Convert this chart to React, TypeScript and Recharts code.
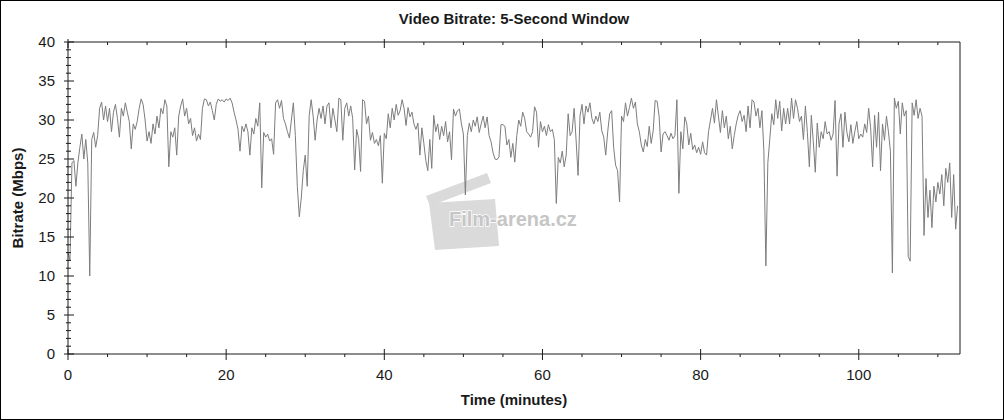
import { LineChart, Line, XAxis, YAxis } from "recharts";

// bitrate samples in Mbps, one every 0.25 min
const seg00 = [
  13, 12, 24.5, 24.8,
  21.5, 24.5, 26.5, 28.2,
  25, 27.5, 24.5, 10,
  27.5, 28.4, 26.5, 28,
  31.5, 32.3, 30, 31.8,
  29.8, 31.5, 28.5, 31,
  32, 30.2, 27.8, 31.5,
  30.5, 32.2, 31, 29.8,
  26.3, 29.5, 28.8, 29.8,
  31.5, 32.7, 32, 30,
  27.3, 28.5, 27, 29.5,
  28.2, 30.5, 29, 31.5,
  30.8, 32.6, 31.8, 24,
  28.5, 27.8, 29, 25.5,
  30.5, 31.8, 32.7, 30.5,
  31.5, 29.5, 30.2, 28,
  29, 27.3, 28.2, 27.5,
  31.5, 32.7, 32.6, 31.8,
  32.3, 31.2, 30, 32,
  32.7, 32.4, 32.6, 32.3,
  32.7, 32.5, 32.8, 32.2,
  31, 30, 28.8, 26,
  29.2, 28.5,
];

const seg22 = [
  29.5, 28.5,
  25.5, 29, 28.2, 30.2,
  29.2, 32.2, 21.3, 28.4,
  27.8, 28.2, 27.3, 27.6,
  25.6, 32.2, 32.6, 31.5,
  32.5, 30.2, 29.5, 28.5,
  27.7, 30, 32.2, 28,
  21.5, 17.6, 20, 23.5,
  25.5, 21.5, 30.6, 32.6,
  30.5, 27.4, 30, 31.5,
  30.2, 31.8, 29.5, 31.8,
  32.2, 29, 31.5, 30,
  28.5, 32.8, 32.6, 27.4,
  31.5, 32.2, 30.5, 31.8,
  30.2, 23.6, 28.8, 27.6,
  23.4, 32.6, 32.4, 29.5,
  30.5, 27.4, 28.4, 27,
  27.5, 26.7, 28, 21.9,
  28.3, 27.6, 30.8, 29,
  31.5, 30, 32, 30.6,
  31.2, 32.6, 31.5, 29.3,
  31.6, 30.4, 31, 29.5,
  28.8, 29.6, 25.5, 29,
];

const seg45 = [
  27, 24.8, 23.5, 27.5,
  23.8, 30.6, 28.5, 29.5,
  27.5, 29.2, 28, 29.8,
  27.2, 28.5, 24.9, 31.4,
  30.5, 31.2, 31.4, 29.5,
  28.2, 20.4, 28, 29.6,
  28.5, 30, 29.2, 30.4,
  28.4, 29.5, 30.5, 29,
  30.4, 28, 27.2, 25.8,
  25, 24.9, 25.3, 29.4,
  29.4, 29.2, 26.8, 27.5,
  25.2, 27, 24.6, 28,
  30, 29.2, 31, 30.2,
  28.5, 28.2, 27.8, 28.5,
  31.7, 31, 26.5, 29.8,
  28.5, 29.2, 28, 29.4,
  28.5, 28.8, 27.5, 19.3,
  25.2, 24.5, 26, 24,
  25.5, 30.8, 28, 28.5,
  31.5, 27.5, 22.9, 30.5,
  32, 29.5, 31.8, 31,
  32.2, 30.2, 29.5, 30.5,
  29.8, 31, 28.6, 27.8,
];

const seg68 = [
  25.5, 28.5, 30.8, 31.2,
  26.5, 24.2, 23.5, 19.5,
  30.5, 29.8, 32.2, 30.5,
  31.6, 32.8, 31.5, 32.3,
  29.5, 28.5, 26.8, 25.9,
  27.5, 26.6, 29.2, 27,
  28.6, 32.5, 32.4, 30.5,
  25.9, 28.2, 28.5, 28,
  27.4, 28.3, 27.6, 28,
  32.6, 20.6, 28.5, 26.3,
  30.4, 29.5, 26.8, 28.3,
  26.2, 26.8, 25.8, 26.5,
  25.6, 27.2, 25.8, 25.5,
  28.5, 30, 31.5, 29.6,
  32.6, 30.5, 28.4, 31.2,
  29, 30.5, 27.6, 29.2,
  26.3, 28, 29.5, 30.6,
  31.2, 29.8, 30.6, 28.5,
  31.8, 29, 32.6, 32.3,
  30.5, 31.5, 29, 31.2,
  26, 11.3, 24.5, 27.6,
  30.8, 29.4, 32.6, 30.2,
  32.4, 28.6, 31.5, 29.5,
];

const seg91 = [
  31.5, 29.5, 32.8, 30.2,
  32.6, 31.5, 29.8, 30.5,
  27.5, 31.8, 28.4, 24,
  30.6, 27.2, 23.3, 29.6,
  26.5, 28.5, 27.6, 29.8,
  28.2, 28.5, 27.4, 28.2,
  32.5, 22.8, 29.5, 30.8,
  26.5, 31, 28.4, 27.2,
  29.4, 27, 28.5, 29.8,
  27.6, 28.2, 27.8, 29.5,
  28.4, 31.5, 29, 24,
  30.6, 26.5, 31, 23.5,
  29.5, 27.4, 30.5, 28.5,
  26, 10.4, 32.8, 31.5,
  32.4, 28.2, 32.2, 30.5,
  31.2, 12.5, 11.9, 32.2,
  30.6, 32.6, 30.2, 31.5,
  30.5, 15.2, 22.5, 17.5,
  21, 16.2, 21.5, 19.5,
  22, 20.5, 23, 19,
  23.8, 22, 24.5, 17.5,
  23, 16, 19,
];

const segments = [
  { start: 0, values: seg00 },
  { start: 22.5, values: seg22 },
  { start: 45, values: seg45 },
  { start: 68, values: seg68 },
  { start: 91, values: seg91 },
];

const STEP = 0.25;
const xTicks = [0, 5, 10, 15, 20, 25, 30, 35, 40, 45, 50, 55, 60, 65, 70, 75, 80, 85, 90, 95, 100, 105, 110];
const yTicks = Array.from({ length: 41 }, (_, i) => i);

const data = segments.flatMap((s) =>
  s.values.map((v, i) => ({ t: s.start + i * STEP, rate: v }))
);

const INK = "#1a1a1a";
const FONT = "'Liberation Sans', Arial, sans-serif";

function BottomTick({ x, y, payload }: any) {
  const major = payload.value % 20 === 0;
  return (
    <g>
      <line x1={x} x2={x} y1={major ? y - 5 : y} y2={major ? y + 6 : y + 3} stroke={INK} />
      {major && (
        <text x={x} y={y + 26} textAnchor="middle" fontSize={15} fill={INK} fontFamily={FONT}>
          {payload.value}
        </text>
      )}
    </g>
  );
}

function TopTick({ x, y, payload }: any) {
  const major = payload.value % 20 === 0;
  return <line x1={x} x2={x} y1={major ? y - 3 : y} y2={major ? y + 6 : y + 3} stroke={INK} />;
}

function LeftTick({ x, y, payload }: any) {
  const major = payload.value % 5 === 0;
  return (
    <g>
      <line x1={major ? x - 4 : x - 2} x2={major ? x + 6 : x + 3} y1={y} y2={y} stroke={INK} />
      {major && (
        <text x={x - 13} y={y} dy="0.36em" textAnchor="end" fontSize={15} fill={INK} fontFamily={FONT}>
          {payload.value}
        </text>
      )}
    </g>
  );
}

function RightTick({ x, y, payload }: any) {
  const major = payload.value % 5 === 0;
  return (
    <g>
      <line x1={major ? x - 5 : x - 3} x2={major ? x + 5 : x + 2} y1={y} y2={y} stroke={INK} />
      {major && (
        <text x={x + 12} y={y} dy="0.36em" textAnchor="start" fontSize={15} fill={INK} fontFamily={FONT}>
          {payload.value}
        </text>
      )}
    </g>
  );
}

function Watermark() {
  return (
    <svg width={1004} height={420} style={{ position: "absolute", left: 0, top: 0 }}>
      <polygon points="426,196 487,173 491,183 430,206" fill="#dadada" />
      <polygon points="429,203 495,199 499,246 435,250" fill="#dadada" />
      <text
        x={449}
        y={226}
        fontSize={20}
        fontWeight="bold"
        fontFamily={FONT}
        fill="#c6c6c6"
        stroke="#ffffff"
        strokeWidth={1.5}
        paintOrder="stroke"
      >
        Film-arena.cz
      </text>
    </svg>
  );
}

export default function App() {
  return (
    <div
      style={{
        position: "absolute",
        left: 0,
        top: 0,
        width: 1004,
        height: 420,
        background: "#fff",
        fontFamily: FONT,
      }}
    >
      <Watermark />
      <div
        style={{
          position: "absolute",
          left: 68,
          top: 10,
          width: 892,
          textAlign: "center",
          fontSize: 15,
          fontWeight: "bold",
          color: INK,
        }}
      >
        Video Bitrate: 5-Second Window
      </div>
      <div style={{ position: "absolute", left: 0, top: 0 }}>
        <LineChart width={1004} height={420} data={data} margin={{ top: 0, right: 0, bottom: 0, left: 0 }}>
          <XAxis
            dataKey="t"
            type="number"
            domain={[0, 112.8]}
            ticks={xTicks}
            interval={0}
            height={66}
            tickSize={0}
            tickMargin={0}
            tickLine={false}
            axisLine={{ stroke: INK }}
            tick={<BottomTick />}
            label={{
              value: "Time (minutes)",
              position: "insideBottom",
              offset: 15,
              style: { fontSize: 15, fontWeight: "bold", fill: INK, fontFamily: FONT },
            }}
          />
          <XAxis
            xAxisId="top"
            dataKey="t"
            type="number"
            orientation="top"
            domain={[0, 112.8]}
            ticks={xTicks}
            interval={0}
            height={42}
            tickSize={0}
            tickMargin={0}
            tickLine={false}
            axisLine={{ stroke: INK }}
            tick={<TopTick />}
          />
          <YAxis
            type="number"
            domain={[0, 40]}
            ticks={yTicks}
            interval={0}
            width={68}
            tickSize={0}
            tickMargin={0}
            tickLine={false}
            axisLine={{ stroke: INK }}
            tick={<LeftTick />}
            label={{
              value: "Bitrate (Mbps)",
              angle: -90,
              position: "insideLeft",
              offset: 18,
              style: { fontSize: 15, fontWeight: "bold", fill: INK, fontFamily: FONT, textAnchor: "middle" },
            }}
          />
          <YAxis
            yAxisId="right"
            orientation="right"
            type="number"
            domain={[0, 40]}
            ticks={yTicks}
            interval={0}
            width={44}
            tickSize={0}
            tickMargin={0}
            tickLine={false}
            axisLine={{ stroke: INK }}
            tick={<RightTick />}
          />
          <Line
            type="linear"
            dataKey="rate"
            stroke="#7d7d7d"
            strokeWidth={1}
            dot={false}
            isAnimationActive={false}
          />
        </LineChart>
      </div>
      <div
        style={{
          position: "absolute",
          left: 0,
          top: 0,
          width: 1004,
          height: 420,
          border: "1px solid #000",
          boxSizing: "border-box",
          pointerEvents: "none",
        }}
      />
    </div>
  );
}
